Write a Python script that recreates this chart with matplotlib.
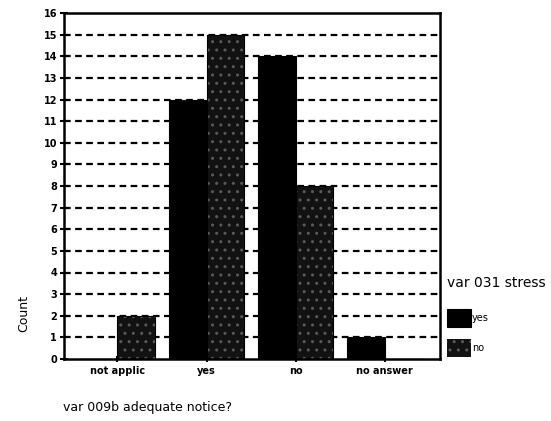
import numpy as np
import matplotlib
matplotlib.use("Agg")
import matplotlib.pyplot as plt

# data
categories = ["not applic", "yes", "no", "no answer"]
stress_yes = [0, 12, 14, 1]
stress_no = [2, 15, 8, 0]
series_names = ["yes", "no"]

fig = plt.figure(figsize=(5.51, 4.21), dpi=100)
ax = fig.add_axes([64 / 551, 1 - 359 / 421, 376 / 551, 346 / 421])

x = np.arange(len(categories))
w = 0.42

# dashed gridlines behind the bars
for v in range(1, 16):
    ax.axhline(v, color="black", lw=1.6, ls=(0, (3, 2)), zorder=1)

b1 = ax.bar(x - w / 2, stress_yes, w, color="black", edgecolor="black",
            lw=0.8, zorder=2, label=series_names[0])
b2 = ax.bar(x + w / 2, stress_no, w, color="#121212", edgecolor="#5a5a5a",
            hatch="..", lw=0, zorder=2, label=series_names[1])
ax.bar(x + w / 2, stress_no, w, fill=False, edgecolor="black", lw=0.8, zorder=3)

ax.set_xlim(-0.6, 3.62)
ax.set_ylim(0, 16)
ax.set_yticks(range(0, 17))
ax.set_yticklabels([str(i) for i in range(0, 17)], fontsize=7, fontweight="bold")
ax.set_xticks(x)
ax.set_xticklabels(categories, fontsize=7, fontweight="bold")
ax.tick_params(axis="y", direction="inout", length=6, width=1.5, pad=2)
ax.tick_params(axis="x", direction="inout", length=4, width=1.5, pad=3)
for s in ax.spines.values():
    s.set_linewidth(1.8)

fig.text(63 / 551, 1 - 408 / 421, "var 009b adequate notice?", fontsize=9,
         ha="left", va="center")
fig.text(24 / 551, 1 - 313 / 421, "Count", fontsize=9, rotation=90,
         ha="center", va="center")

leg = fig.legend(handles=[b1, b2], labels=series_names, title="var 031 stress",
                 loc="upper left", bbox_to_anchor=(440 / 551, 1 - 269 / 421),
                 frameon=False, fontsize=7, title_fontsize=10,
                 handlelength=2.5, handleheight=2.4, handletextpad=0.1,
                 labelspacing=1.3, borderpad=0.2)
leg._legend_box.align = "left"
leg._legend_box.sep = 14

fig.savefig("out.png", dpi=100)
